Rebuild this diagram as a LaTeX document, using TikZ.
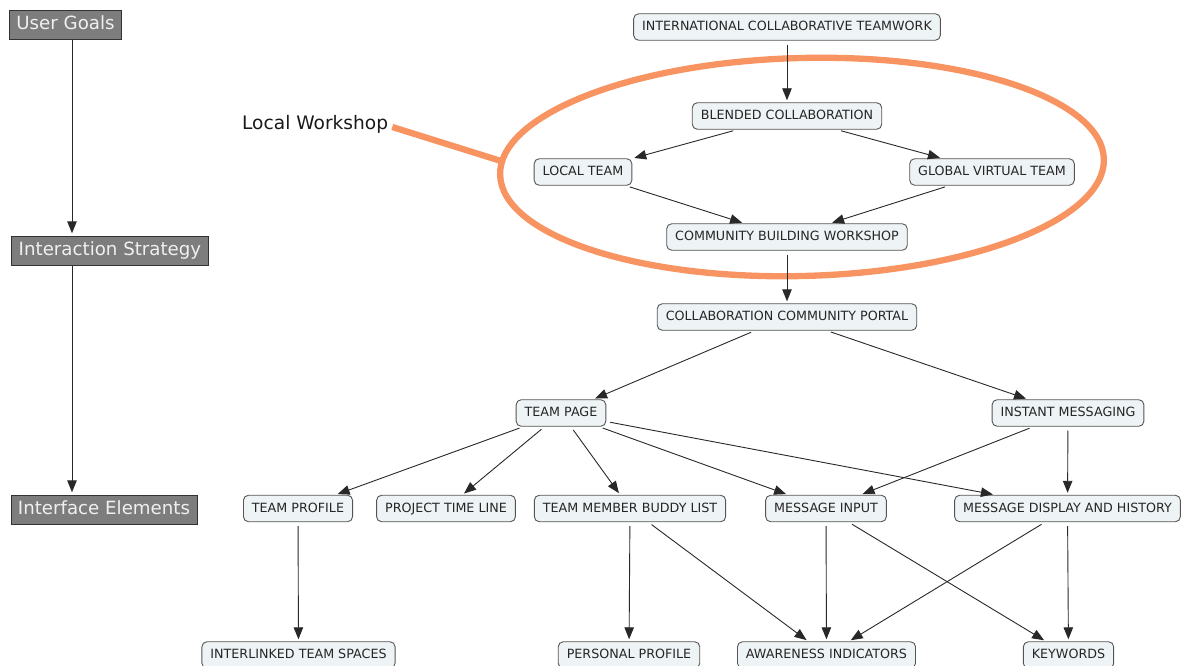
\documentclass[tikz,border=0pt]{standalone}
\usepackage{fontspec}
\setmainfont{DejaVu Sans}
\usetikzlibrary{arrows.meta,calc}
\definecolor{nodefill}{RGB}{238,243,245}
\definecolor{nodeline}{RGB}{85,85,85}
\definecolor{linkc}{RGB}{40,40,40}
\definecolor{hdrfill}{RGB}{125,125,125}
\definecolor{hdrline}{RGB}{50,50,50}
\definecolor{hdrtext}{RGB}{240,240,240}
\definecolor{orng}{RGB}{247,148,98}
\tikzset{
  concept/.style={draw=nodeline, fill=nodefill, rounded corners=5pt, line width=0.9pt,
    font=\fontsize{12.7}{14}\selectfont, text=black!85, inner xsep=8.5pt, inner ysep=0pt,
    minimum height=26.5pt, text height=9.2pt, text depth=2pt},
  header/.style={draw=hdrline, fill=hdrfill, line width=0.9pt, text=hdrtext,
    font=\fontsize{18.2}{20}\selectfont, inner xsep=7pt, inner ysep=0pt,
    minimum height=28.5pt, text height=13pt, text depth=3.5pt},
  link/.style={draw=linkc, line width=0.9pt, -{Triangle[length=12pt,width=9.5pt]},
    shorten <=4pt, shorten >=2pt},
  halo/.style={draw=orng, line width=6.3pt}
}
\begin{document}
\begin{tikzpicture}[x=1pt,y=-1pt]
\useasboundingbox (0,0) rectangle (1189,666);
% headers
\node[header] (ug) at (65.5,25) {User Goals};
\node[header] (is) at (110,251) {Interaction Strategy};
\node[header] (ie) at (104,510) {Interface Elements};
\coordinate (c1) at ([xshift=6.5pt]ug.south);
\coordinate (c2) at ([xshift=-38pt]is.south);
\draw[link,shorten <=0pt,shorten >=3pt] (c1) -- (c1 |- is.north);
\draw[link,shorten <=0pt,shorten >=3pt] (c2) -- (c2 |- ie.north);
% halo
\draw[halo, rotate around={1.5:(802,167)}] (802,167) ellipse [x radius=302pt, y radius=109pt];
\node[font=\fontsize{18.6}{21}\selectfont, text=black!90, anchor=west, inner sep=0pt] (lw) at (242,124) {Local Workshop};
\coordinate (lwend) at (501,161);
\draw[halo] ([xshift=4pt,yshift=-3pt]lw.east) -- (lwend);
% concepts
\node[concept] (ict) at (787,27) {INTERNATIONAL COLLABORATIVE TEAMWORK};
\node[concept] (bc) at (787,116) {BLENDED COLLABORATION};
\node[concept] (lt) at (583,172) {LOCAL TEAM};
\node[concept] (gvt) at (992,172) {GLOBAL VIRTUAL TEAM};
\node[concept] (cbw) at (787,237) {COMMUNITY BUILDING WORKSHOP};
\node[concept] (ccp) at (787,317) {COLLABORATION COMMUNITY PORTAL};
\node[concept] (tp) at (561,413) {TEAM PAGE};
\node[concept] (im) at (1068,413) {INSTANT MESSAGING};
\node[concept] (tpr) at (298,508.5) {TEAM PROFILE};
\node[concept] (ptl) at (446,508.5) {PROJECT TIME LINE};
\node[concept] (tmbl) at (630,508.5) {TEAM MEMBER BUDDY LIST};
\node[concept] (mi) at (826,508.5) {MESSAGE INPUT};
\node[concept] (mdh) at (1067.5,508.5) {MESSAGE DISPLAY AND HISTORY};
\node[concept] (its) at (298.5,655) {INTERLINKED TEAM SPACES};
\node[concept] (pp) at (629,655) {PERSONAL PROFILE};
\node[concept] (ai) at (826.5,655) {AWARENESS INDICATORS};
\node[concept] (kw) at (1068.5,655) {KEYWORDS};
% links
\draw[link] (ict) -- (bc);
\draw[link] (bc) -- (lt);
\draw[link] (bc) -- (gvt);
\draw[link] (lt) -- (cbw);
\draw[link] (gvt) -- (cbw);
\draw[link] (cbw) -- (ccp);
\draw[link] (ccp) -- (tp);
\draw[link] (ccp) -- (im);
\draw[link] (tp) -- (tpr);
\draw[link] (tp) -- (ptl);
\draw[link] (tp) -- (tmbl);
\draw[link] (tp) -- (mi);
\draw[link] (tp) -- (mdh);
\draw[link] (im) -- (mi);
\draw[link] (im) -- (mdh);
\draw[link] (tpr) -- (its);
\draw[link] (tmbl) -- (pp);
\draw[link] (tmbl) -- (ai);
\draw[link] (mi) -- (ai);
\draw[link] (mi) -- (kw);
\draw[link] (mdh) -- (ai);
\draw[link] (mdh) -- (kw);
\end{tikzpicture}
\end{document}
